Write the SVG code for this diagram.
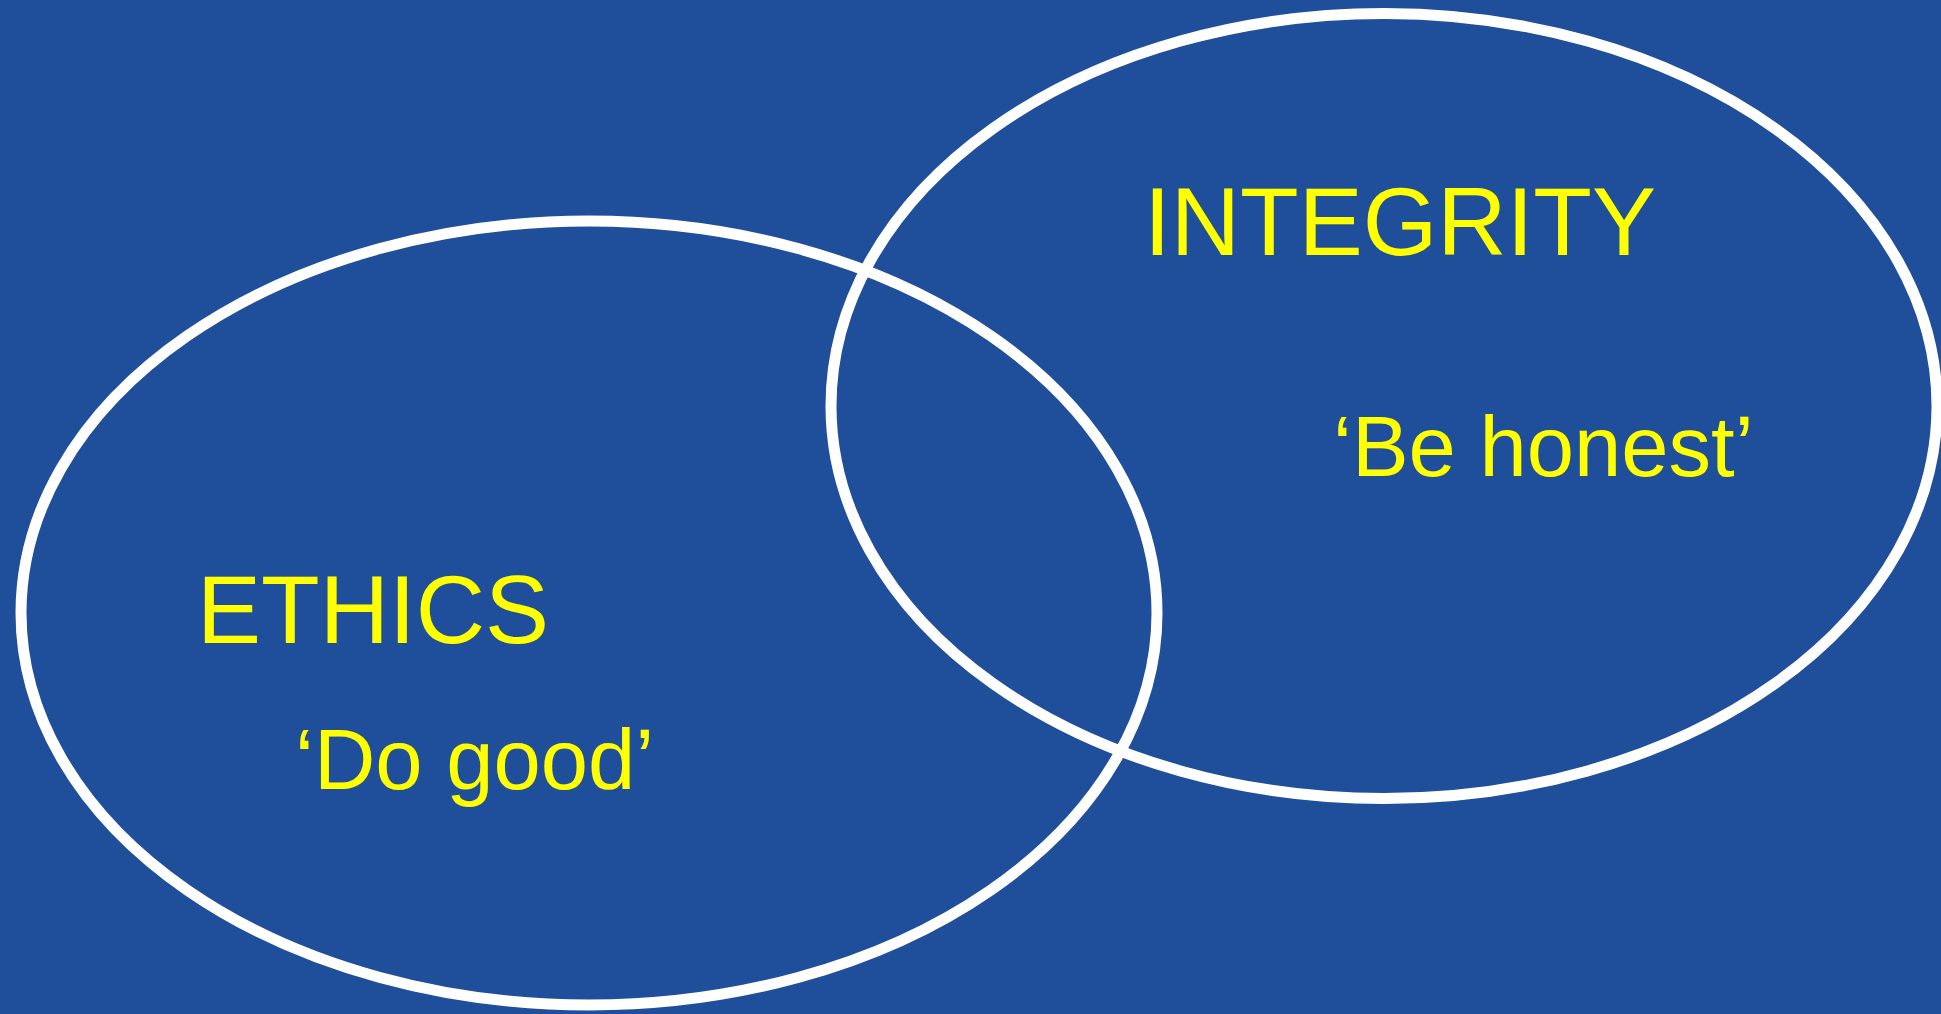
<svg xmlns="http://www.w3.org/2000/svg" width="1941" height="1014" viewBox="0 0 1941 1014">
  <style>
    .ring { fill: none; stroke: #ffffff; stroke-width: 11; }
    .title { fill: #ffff00; font-family: "Liberation Sans", Arial, sans-serif; font-size: 96px; }
    .motto { fill: #ffff00; font-family: "Liberation Sans", Arial, sans-serif; font-size: 85px; }
  </style>
  <rect x="0" y="0" width="1941" height="1014" fill="#1f4e9b"/>
  <g id="ethics">
    <ellipse class="ring" cx="589" cy="613" rx="568" ry="392"/>
    <text class="title" x="197" y="643">ETHICS</text>
    <text class="motto" x="295" y="789">‘Do good’</text>
  </g>
  <g id="integrity">
    <ellipse class="ring" cx="1384" cy="406" rx="553" ry="392.5"/>
    <text class="title" x="1144" y="255">INTEGRITY</text>
    <text class="motto" x="1333" y="476">‘Be honest’</text>
  </g>
  <g id="connectors"/>
</svg>
